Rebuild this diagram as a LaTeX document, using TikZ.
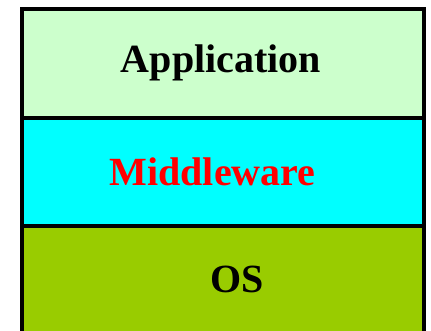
\documentclass[tikz,border=0pt]{standalone}
\usepackage{fontspec}
\setmainfont{Liberation Serif}
\usepackage{tikz}

\definecolor{appgreen}{HTML}{CCFFCC}
\definecolor{midcyan}{HTML}{00FFFF}
\definecolor{osgreen}{HTML}{99CC00}

\begin{document}
\begin{tikzpicture}[x=1pt, y=1pt, line width=4pt,
    layer/.style={draw=black, minimum width=402pt, minimum height=108pt, inner sep=0pt},
    lbl/.style={font=\fontsize{40}{48}\selectfont\bfseries, inner sep=0pt, anchor=base}]
    % fix page size
    \clip (0, 0) rectangle (431, 330);

    % draw layer boxes
    \node[layer, fill=osgreen] (os) at (223, 50.5) {};
    \node[layer, fill=midcyan] (middleware) at (223, 158.5) {};
    \node[layer, fill=appgreen] (application) at (223, 266.5) {};

    % draw labels
    \node[lbl] (applabel) at (221, 257) {Application};
    \node[lbl, text=red] (midlabel) at (212.5, 145) {Middleware};
    \node[lbl] (oslabel) at (237.5, 38) {OS};
\end{tikzpicture}
\end{document}
